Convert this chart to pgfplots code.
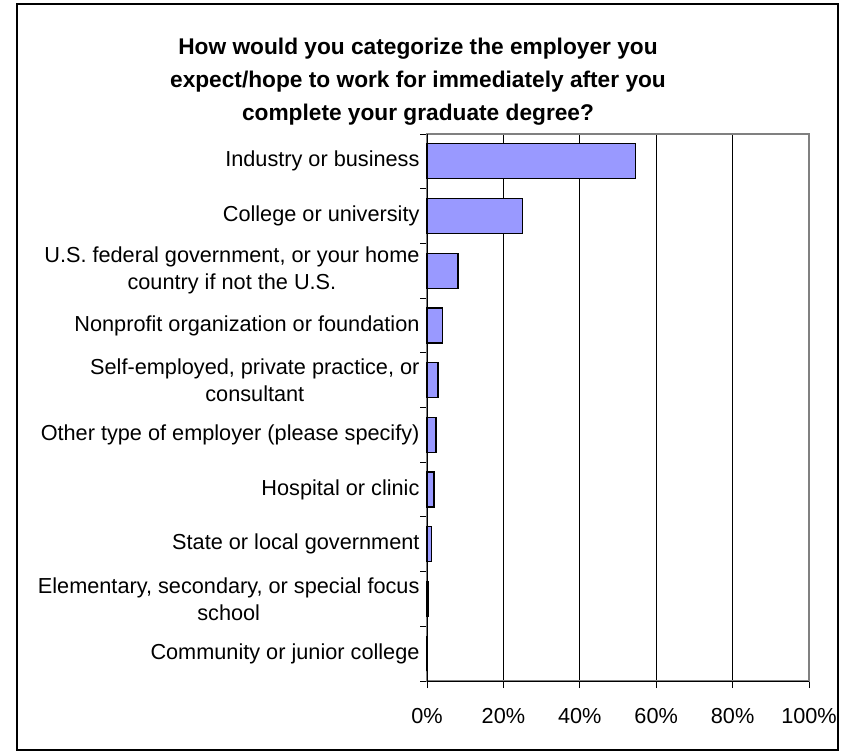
\documentclass[border=0pt]{standalone}
\usepackage{fontspec}
\setmainfont{Liberation Sans}
\usepackage{pgfplots}
\pgfplotsset{compat=1.18}
\definecolor{barfill}{HTML}{9999FF}
\begin{document}
\begin{tikzpicture}[x=1pt,y=1pt]
\path[use as bounding box] (0,0) rectangle (842,754);
\draw[line width=1.3pt] (17,4) rectangle (838,750);
\node[align=center, font=\fontsize{22.7}{33}\selectfont\bfseries] at (418,672)
  {How would you categorize the employer you\\expect/hope to work for immediately after you\\complete your graduate degree?};
\begin{axis}[
  at={(427pt,73pt)}, anchor=south west,
  scale only axis, width=382pt, height=547pt,
  xbar, bar width=35pt,
  xmin=0, xmax=100, ymin=-0.5, ymax=9.5,
  xtick={0,20,40,60,80,100},
  xticklabels={0\%,20\%,40\%,60\%,80\%,100\%},
  ytick={-0.5,0.5,1.5,2.5,3.5,4.5,5.5,6.5,7.5,8.5,9.5},
  yticklabels={},
  extra y ticks={0,1,2,3,4,5,6,7,8,9},
  extra y tick labels={
    Community or junior college,
    {Elementary, secondary, or special focus\\school},
    State or local government,
    Hospital or clinic,
    Other type of employer (please specify),
    {Self-employed, private practice, or\\consultant},
    Nonprofit organization or foundation,
    {U.S. federal government, or your home\\country if not the U.S.},
    College or university,
    Industry or business},
  extra y tick style={major tick length=0pt, yticklabel style={align=center, xshift=-4pt}},
  xtick pos=bottom, ytick pos=left,
  tick align=outside,
  major tick length=7pt,
  tick style={black, line width=0.8pt},
  xmajorgrids,
  major grid style={black, line width=0.8pt},
  axis line style={draw=gray, line width=1.6pt},
  ticklabel style={font=\fontsize{21.7}{27}\selectfont},
  xticklabel style={yshift=-17pt},
  clip=false,
]
\addplot[fill=barfill, draw=black, line width=1.3pt] coordinates {
  (0,0) (0.4,1) (1.1,2) (1.8,3) (2.35,4) (2.9,5) (4.1,6) (8.1,7) (25.0,8) (54.5,9)
};
\draw[black, line width=1pt] (axis cs:0,-0.5) -- (axis cs:0,9.5);
\draw[black, line width=1pt] (axis cs:0,-0.5) -- (axis cs:100,-0.5);
\end{axis}
\end{tikzpicture}
\end{document}
